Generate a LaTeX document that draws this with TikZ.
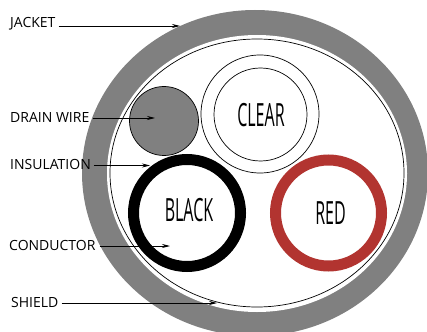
\documentclass[tikz,border=0pt]{standalone}
\usepackage{fontspec}
\setmainfont{Open Sans}
\usetikzlibrary{arrows.meta}
\definecolor{jacketgray}{RGB}{128,128,128}
\definecolor{redwire}{RGB}{178,52,48}
\tikzset{
  lbl/.style={inner sep=0pt,anchor=west,font=\fontsize{14}{16}\selectfont,text=black},
  wirename/.style={inner sep=0pt,font=\fontsize{32}{36}\selectfont,xscale=0.5,text=black},
  callout/.style={draw=black,line width=0.8pt,-{Stealth[length=8pt,width=4pt]}},
  thinring/.style={draw=black,line width=0.7pt,fill=white},
}
\begin{document}
\begin{tikzpicture}[x=1pt,y=-1pt]
\useasboundingbox (0,0) rectangle (427,331);
\begin{scope}
\clip (0,0) rectangle (427,331);
\fill[jacketgray] (255,173) ellipse [x radius=173,y radius=163];
\fill[white] (257,173.5) ellipse [x radius=150,y radius=138.5];
\draw[black,line width=0.7pt] (257,173) ellipse [x radius=147,y radius=134];
\end{scope}
\node[circle,draw=black,line width=0.7pt,fill=jacketgray,minimum size=69pt,inner sep=0pt] (drain) at (164,121) {};
\node[circle,thinring,minimum size=118pt,inner sep=0pt] (clearout) at (260,114) {};
\node[circle,thinring,minimum size=93pt,inner sep=0pt] (clearin) at (260.5,114.5) {};
\node[wirename] (cleartxt) at (261,115) {CLEAR};
\node[circle,draw=black,line width=11pt,fill=white,minimum size=107pt,inner sep=0pt] (black) at (187,213) {};
\node[wirename] (blacktxt) at (189,210) {BLACK};
\node[circle,draw=redwire,line width=11pt,fill=white,minimum size=106pt,inner sep=0pt] (red) at (328.5,213) {};
\node[wirename] (redtxt) at (330.5,213.5) {RED};
\node[lbl] (jacket) at (10,24) {JACKET};
\node[lbl] (drainlbl) at (10,117) {DRAIN WIRE};
\node[lbl] (insul) at (10,164) {INSULATION};
\node[lbl] (cond) at (9,245) {CONDUCTOR};
\node[lbl] (shield) at (11,302) {SHIELD};
\coordinate (jacketend) at (180,26);
\coordinate (drainend) at (155,118);
\coordinate (insulend) at (150,165.5);
\coordinate (condend) at (170,246);
\coordinate (shieldend) at (217,303);
\draw[callout] (jacket.east |- jacketend) ++(3,0) -- (jacketend);
\draw[callout] (drainlbl.east |- drainend) ++(3,0) -- (drainend);
\draw[callout] (insul.east |- insulend) ++(3,0) -- (insulend);
\draw[callout] (cond.east |- condend) ++(4,0) -- (condend);
\draw[callout] (shield.east |- shieldend) ++(3,0) -- (shieldend);
\end{tikzpicture}
\end{document}
